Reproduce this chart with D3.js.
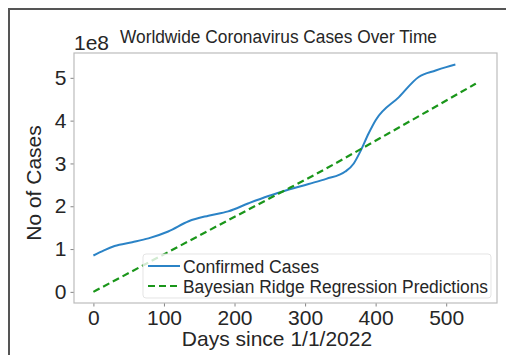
<!DOCTYPE html>
<html>
<head>
<meta charset="utf-8">
<script src="https://cdn.jsdelivr.net/npm/d3@7"></script>
<style>
  body { margin: 0; background: #fff; }
  svg { display: block; font-family: "Liberation Sans", Arial, sans-serif; }
</style>
</head>
<body>
<svg id="chart" width="506" height="355"></svg>
<script>
// confirmed cases (days since 1/1/2022, cases)
var days = [0, 15, 30, 55, 78, 106, 135, 163, 191, 220, 248, 267, 305, 330, 357, 369, 378, 390, 400, 433, 461, 485, 500, 513];
var confirmed = [0.85e8, 0.97e8, 1.07e8, 1.16e8, 1.25e8, 1.41e8, 1.65e8, 1.78e8, 1.88e8, 2.07e8, 2.24e8, 2.34e8, 2.52e8, 2.64e8, 2.81e8, 3.0e8, 3.27e8, 3.7e8, 4.01e8, 4.55e8, 5.02e8, 5.17e8, 5.25e8, 5.31e8];
// bayesian ridge predictions
var predDays = [0, 106, 262, 305, 418, 542];
var predicted = [0, 0.93e8, 2.29e8, 2.66e8, 3.7e8, 4.865e8];

var xTicks = [0, 100, 200, 300, 400, 500];
var yTicks = [0, 1e8, 2e8, 3e8, 4e8, 5e8];
var legendLabels = ["Confirmed Cases", "Bayesian Ridge Regression Predictions"];

var svg = d3.select("#chart");
var plot = {left: 74, right: 497, top: 53, bottom: 303};
var textColor = "#262626";

// outer frame of the screenshot
svg.append("rect")
    .attr("x", 9).attr("y", 9)
    .attr("width", 520).attr("height", 360)
    .attr("fill", "none")
    .attr("stroke", "#555")
    .attr("stroke-width", 2);

var x = d3.scaleLinear().domain([-27.5, 572]).range([plot.left, plot.right]);
var y = d3.scaleLinear().domain([-0.26e8, 5.58e8]).range([plot.bottom, plot.top]);

// axes
var xAxis = svg.append("g")
    .attr("transform", "translate(0," + plot.bottom + ")")
    .call(d3.axisBottom(x).tickValues(xTicks).tickSize(3.5).tickPadding(4).tickFormat(d3.format("d")));
var yAxis = svg.append("g")
    .attr("transform", "translate(" + plot.left + ",0)")
    .call(d3.axisLeft(y).tickValues(yTicks).tickSize(3.5).tickPadding(4).tickFormat(function(d) { return d / 1e8; }));

[xAxis, yAxis].forEach(function(a) {
    a.select(".domain").remove();
    a.selectAll(".tick line").attr("stroke", "#666").attr("stroke-width", 0.8);
    a.selectAll(".tick text")
        .attr("fill", textColor)
        .attr("font-size", 21)
        .attr("font-family", "Liberation Sans, Arial, sans-serif");
});
xAxis.selectAll(".tick text").attr("dy", "0.68em");

// plot frame
svg.append("rect")
    .attr("x", plot.left).attr("y", plot.top)
    .attr("width", plot.right - plot.left)
    .attr("height", plot.bottom - plot.top)
    .attr("fill", "none")
    .attr("stroke", "#bcbcbc")
    .attr("stroke-width", 1.2);

var line = d3.line()
    .x(function(d) { return x(d[0]); })
    .y(function(d) { return y(d[1]); })
    .curve(d3.curveMonotoneX);

svg.append("path")
    .datum(d3.zip(days, confirmed))
    .attr("d", line)
    .attr("fill", "none")
    .attr("stroke", "#2b83c6")
    .attr("stroke-width", 2);

svg.append("path")
    .datum(d3.zip(predDays, predicted))
    .attr("d", line)
    .attr("fill", "none")
    .attr("stroke", "#1a961a")
    .attr("stroke-width", 2.2)
    .attr("stroke-dasharray", "7,4");

// legend
var lg = svg.append("g");
lg.append("rect")
    .attr("x", 143).attr("y", 254)
    .attr("width", 348).attr("height", 44)
    .attr("rx", 3)
    .attr("fill", "#fff").attr("fill-opacity", 0.8)
    .attr("stroke", "#ddd").attr("stroke-opacity", 0.8);
lg.append("line")
    .attr("x1", 148).attr("x2", 180).attr("y1", 266).attr("y2", 266)
    .attr("stroke", "#2b83c6").attr("stroke-width", 2);
lg.append("line")
    .attr("x1", 148).attr("x2", 180).attr("y1", 286).attr("y2", 286)
    .attr("stroke", "#1a961a").attr("stroke-width", 2.2)
    .attr("stroke-dasharray", "7,4");
lg.selectAll("text.lab")
    .data(legendLabels)
    .enter().append("text")
    .attr("class", "lab")
    .attr("x", 183)
    .attr("y", function(d, i) { return 273 + i * 20; })
    .attr("font-size", 18)
    .attr("fill", textColor)
    .attr("textLength", function(d, i) { return i ? 305 : 136; })
    .attr("lengthAdjust", "spacingAndGlyphs")
    .text(function(d) { return d; });

// titles
svg.append("text")
    .attr("x", 120).attr("y", 43)
    .attr("font-size", 18)
    .attr("fill", textColor)
    .attr("textLength", 317)
    .attr("lengthAdjust", "spacingAndGlyphs")
    .text("Worldwide Coronavirus Cases Over Time");

svg.append("text")
    .attr("x", 74).attr("y", 50)
    .attr("font-size", 21)
    .attr("fill", textColor)
    .text("1e8");

svg.append("text")
    .attr("x", 277).attr("y", 346)
    .attr("text-anchor", "middle")
    .attr("font-size", 21)
    .attr("fill", textColor)
    .text("Days since 1/1/2022");

svg.append("text")
    .attr("transform", "translate(41,183) rotate(-90)")
    .attr("text-anchor", "middle")
    .attr("font-size", 21)
    .attr("fill", textColor)
    .text("No of Cases");
</script>
</body>
</html>
